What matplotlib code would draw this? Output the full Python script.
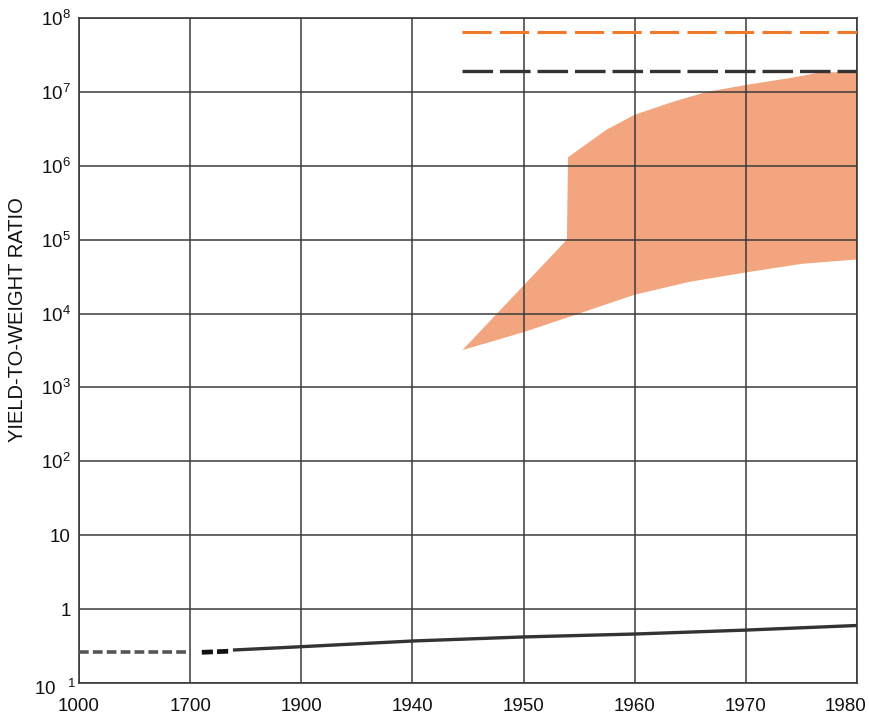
import numpy as np
import matplotlib
matplotlib.use("Agg")
import matplotlib.pyplot as plt
from matplotlib.transforms import ScaledTranslation

plt.rcParams["font.family"] = ["Liberation Sans", "DejaVu Sans"]
plt.rcParams["lines.scale_dashes"] = False

# ── Data ──────────────────────────────────────────────────────────────────────
tick_years = [1000, 1700, 1900, 1940, 1950, 1960, 1970, 1980]
y_ticks = [1e-1, 1, 10, 1e2, 1e3, 1e4, 1e5, 1e6, 1e7, 1e8]
y_ticklabels = [r"$\mathregular{10\ \ ^{1}}$", "1", "10",
                r"$\mathregular{10^2}$", r"$\mathregular{10^3}$",
                r"$\mathregular{10^4}$", r"$\mathregular{10^5}$",
                r"$\mathregular{10^6}$", r"$\mathregular{10^7}$",
                r"$\mathregular{10^8}$"]

# chemical explosives (bottom line)
chem_early_years = [1000, 1700]
chem_early_vals = [0.26, 0.26]
chem_mid_years = [1721, 1773]
chem_mid_vals = [0.26, 0.27]
chem_years = [1780, 1900, 1940, 1950, 1960, 1970, 1980]
chem_vals = [0.28, 0.31, 0.37, 0.42, 0.46, 0.52, 0.60]

# nuclear weapons band
band_upper_years = [1944.5, 1953.9, 1954.0, 1955.3, 1957.5, 1960, 1963.4,
                    1966.5, 1970, 1974, 1976.4, 1980]
band_upper_vals = [3.2e3, 1.0e5, 1.3e6, 1.8e6, 3.1e6, 4.9e6, 7.3e6,
                   1.0e7, 1.24e7, 1.54e7, 1.8e7, 1.9e7]
band_lower_years = [1944.5, 1950, 1955, 1960, 1965, 1970, 1975, 1980]
band_lower_vals = [3.2e3, 5.6e3, 1.0e4, 1.8e4, 2.7e4, 3.6e4, 4.7e4, 5.4e4]

# theoretical limits (dashed)
limit_years = [1944.5, 1980]
limit_orange = 6.5e7
limit_black = 1.9e7


def to_pos(years):
    """Map years onto the evenly spaced category axis."""
    return np.interp(years, tick_years, np.arange(len(tick_years)))


fig = plt.figure(figsize=(8.69, 7.16), dpi=100)
fig.patch.set_facecolor("white")
ax = fig.add_axes([0.0909, 0.0461, 0.8953, 0.9288])
ax.set_yscale("log")
ax.set_xlim(0, len(tick_years) - 1)
ax.set_ylim(1e-1, 1e8)

# band
xs = np.concatenate([to_pos(band_upper_years), to_pos(band_lower_years)[::-1]])
ys = np.concatenate([band_upper_vals, band_lower_vals[::-1]])
ax.fill(xs, ys, color="#f3a57f", linewidth=0, zorder=1)

# grid
for i in range(len(tick_years)):
    ax.axvline(i, color="#3a3a3a", linewidth=1.1, zorder=2)
for v in y_ticks:
    ax.axhline(v, color="#3a3a3a", linewidth=1.1, zorder=2)

# dashed limits
ax.plot(to_pos(limit_years), [limit_orange] * 2, color="#f07a2c", linewidth=2.2,
        dashes=(21, 6), zorder=3)
ax.plot(to_pos(limit_years), [limit_black] * 2, color="#333333", linewidth=2.4,
        dashes=(22, 5), zorder=3)

# chemical explosives line
ax.plot(to_pos(chem_early_years), chem_early_vals, color="#555555", linewidth=2.6,
        dashes=(7, 3), zorder=3)
ax.plot(to_pos(chem_mid_years), chem_mid_vals, color="#111111", linewidth=3.4,
        dashes=(8, 3), zorder=3)
ax.plot(to_pos(chem_years), chem_vals, color="#333333", linewidth=2.4, zorder=3)

ax.set_xticks(np.arange(len(tick_years)))
ax.set_xticklabels([str(y) for y in tick_years])
ax.set_yticks(y_ticks)
ax.set_yticklabels(y_ticklabels)
ax.minorticks_off()
ax.tick_params(length=0, labelsize=13.5, colors="#111111")
ax.tick_params(axis="y", pad=6)
ax.tick_params(axis="x", pad=11)

# last year label sits inside the right edge, lowest decade label drops a little
last = ax.get_xticklabels()[-1]
last.set_transform(last.get_transform() + ScaledTranslation(-12 / 100, 0, fig.dpi_scale_trans))
low = ax.get_yticklabels()[0]
low.set_transform(low.get_transform() + ScaledTranslation(5 / 100, -4 / 100, fig.dpi_scale_trans))

for s in ax.spines.values():
    s.set_color("#3a3a3a")
    s.set_linewidth(1.2)

ax.set_ylabel("YIELD-TO-WEIGHT RATIO", fontsize=14.5, color="#111111")
ax.yaxis.set_label_coords(-0.0668, 0.547)

fig.savefig("out.png", dpi=100, facecolor="white")
